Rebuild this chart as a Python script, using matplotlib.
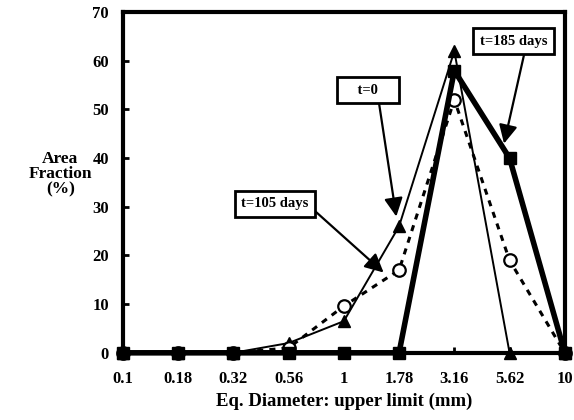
import numpy as np
import matplotlib
matplotlib.use('Agg')
import matplotlib.pyplot as plt

# size classes (upper limit of equivalent diameter, mm)
diam_labels = ['0.1', '0.18', '0.32', '0.56', '1', '1.78', '3.16', '5.62', '10']
t0 = [0, 0, 0, 2, 6.5, 26, 62, 0, 0]
t105 = [0, 0, 0, 1, 9.6, 17, 52, 19, 0]
t185 = [0, 0, 0, 0, 0, 0, 58, 40, 0]

plt.rcParams['font.family'] = ['Liberation Serif', 'DejaVu Serif']
plt.rcParams['font.weight'] = 'bold'

fig = plt.figure(figsize=(5.74, 4.2), dpi=100)
ax = fig.add_axes([0.214, 0.160, 0.770, 0.811])

x = np.arange(len(diam_labels))

ax.plot(x, t0, color='black', lw=1.4, marker='^', ms=9, mfc='black',
        clip_on=False, zorder=3)
ax.plot(x, t105, color='black', lw=2.2, ls=(0, (2, 2)), marker='o', ms=9,
        mfc='white', mec='black', mew=1.6, clip_on=False, zorder=4)
ax.plot(x, t185, color='black', lw=4, marker='s', ms=9, mfc='black',
        clip_on=False, zorder=5)

ax.set_xlim(0, 8)
ax.set_ylim(0, 70)
ax.set_xticks(x)
ax.set_xticklabels(diam_labels)
ax.set_yticks(np.arange(0, 71, 10))

for s in ax.spines.values():
    s.set_linewidth(3)

ax.tick_params(axis='both', direction='in', length=4, width=2, labelsize=12)
ax.tick_params(axis='x', pad=13)
ax.tick_params(axis='y', pad=10)
for lbl in ax.get_xticklabels() + ax.get_yticklabels():
    lbl.set_fontweight('bold')

ax.set_xlabel('Eq. Diameter: upper limit (mm)', fontsize=13.5, fontweight='bold',
              labelpad=4)
fig.text(0.105, 0.585, 'Area\nFraction\n(%)', ha='center', va='center',
         fontsize=12.5, fontweight='bold', linespacing=0.95)

box = dict(boxstyle='square,pad=0.45', fc='white', ec='black', lw=2)


def arrow(rx, ry):
    return dict(arrowstyle='-|>', mutation_scale=28, lw=1.6, color='black',
                shrinkA=0, shrinkB=0, relpos=(rx, ry))


ax.annotate('t=185 days', xy=(6.9, 43), xytext=(7.07, 64),
            ha='center', va='center', fontsize=10.5, fontweight='bold',
            bbox=box, arrowprops=arrow(0.68, 0), zorder=6)
ax.annotate('    t=0    ', xy=(4.95, 28), xytext=(4.44, 54),
            ha='center', va='center', fontsize=10.5, fontweight='bold',
            bbox=box, arrowprops=arrow(0.7, 0), zorder=6)
ax.annotate('t=105 days', xy=(4.72, 16.5), xytext=(2.75, 30.6),
            ha='center', va='center', fontsize=10.5, fontweight='bold',
            bbox=box, arrowprops=arrow(1, 0.4), zorder=6)

fig.savefig('out.png', dpi=100)
